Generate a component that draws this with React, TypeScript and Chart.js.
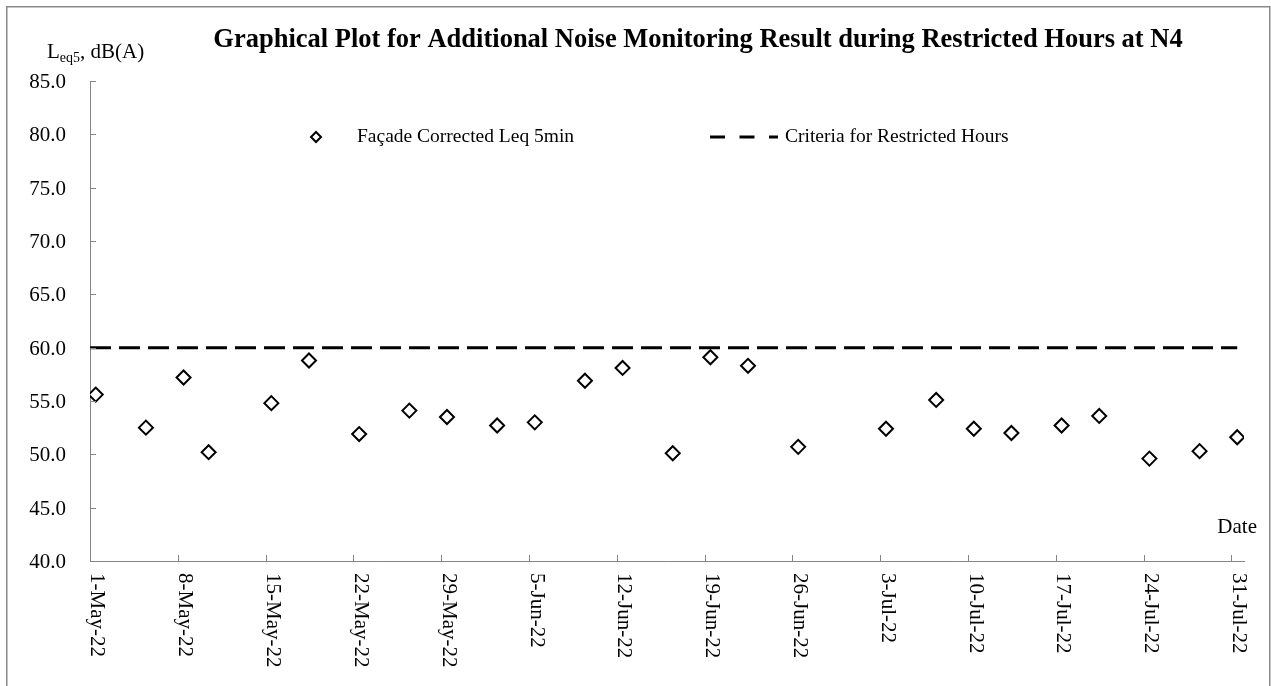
import React, { useEffect, useRef } from 'react';
import { Chart, registerables } from 'chart.js';

Chart.register(...registerables);

// ---------- data ----------
const TITLE = 'Graphical Plot for Additional Noise Monitoring Result during Restricted Hours at N4';
const SERIES_POINTS = 'Façade Corrected Leq 5min';
const SERIES_CRITERIA = 'Criteria for Restricted Hours';
const X_TITLE = 'Date';
const Y_TITLE_MAIN = 'L';
const Y_TITLE_SUB = 'eq5';
const Y_TITLE_REST = ', dB(A)';

const AXIS_START = '2022-05-01';
const MEASURE_TIME = '11:00';

const measureDates = [
  '2022-05-01', '2022-05-05', '2022-05-08', '2022-05-10', '2022-05-15', '2022-05-18',
  '2022-05-22', '2022-05-26', '2022-05-29', '2022-06-02', '2022-06-05', '2022-06-09',
  '2022-06-12', '2022-06-16', '2022-06-19', '2022-06-22', '2022-06-26', '2022-07-03',
  '2022-07-07', '2022-07-10', '2022-07-13', '2022-07-17', '2022-07-20', '2022-07-24',
  '2022-07-28', '2022-07-31',
];
const leqValues = [
  55.6, 52.5, 57.2, 50.2, 54.8, 58.8,
  51.9, 54.1, 53.5, 52.7, 53.0, 56.9,
  58.1, 50.1, 59.1, 58.3, 50.7, 52.4,
  55.1, 52.4, 52.0, 52.7, 53.6, 49.6,
  50.3, 51.6,
];

const criteriaDates = ['2022-05-01 00:00', '2022-07-31 11:00'];
const criteriaValues = [60, 60];

const xTickLabels = [
  '1-May-22', '8-May-22', '15-May-22', '22-May-22', '29-May-22', '5-Jun-22', '12-Jun-22',
  '19-Jun-22', '26-Jun-22', '3-Jul-22', '10-Jul-22', '17-Jul-22', '24-Jul-22', '31-Jul-22',
];
const X_MAX_DAYS = 92;
const X_STEP_DAYS = 7;
const yTickLabels = ['40.0', '45.0', '50.0', '55.0', '60.0', '65.0', '70.0', '75.0', '80.0', '85.0'];
const Y_MIN = 40;
const Y_MAX = 85;
const Y_STEP = 5;

// ---------- styles ----------
const FONT = '"Liberation Serif", "Times New Roman", serif';
const AXIS_COLOR = '#858585';
const FRAME_COLOR = '#8a8a8a';

function dayOffset(s: string): number {
  const [d, t = '00:00'] = s.split(' ');
  const [Y, M, D] = d.split('-').map(Number);
  const [h, m] = t.split(':').map(Number);
  const [Y0, M0, D0] = AXIS_START.split('-').map(Number);
  return (Date.UTC(Y, M - 1, D, h, m) - Date.UTC(Y0, M0 - 1, D0)) / 86400000;
}

const decorPlugin = {
  id: 'decor',
  beforeDraw(chart: any) {
    const { ctx, width, height } = chart;
    ctx.save();
    ctx.fillStyle = '#ffffff';
    ctx.fillRect(0, 0, width, height);
    ctx.restore();
  },
  afterDraw(chart: any) {
    const { ctx, chartArea } = chart;
    const xs = chart.scales.x;
    const ys = chart.scales.y;
    ctx.save();

    // outer frame
    ctx.strokeStyle = FRAME_COLOR;
    ctx.lineWidth = 1.5;
    ctx.strokeRect(6.75, 6.75, 1263, 800);

    // inward tick marks
    ctx.strokeStyle = AXIS_COLOR;
    ctx.lineWidth = 1;
    ctx.beginPath();
    xs.ticks.forEach((t: any) => {
      const px = Math.round(xs.getPixelForValue(t.value)) + 0.5;
      ctx.moveTo(px, chartArea.bottom);
      ctx.lineTo(px, chartArea.bottom - 6);
    });
    ys.ticks.forEach((t: any) => {
      const py = Math.round(ys.getPixelForValue(t.value)) + 0.5;
      ctx.moveTo(chartArea.left, py);
      ctx.lineTo(chartArea.left + 6, py);
    });
    ctx.stroke();

    ctx.fillStyle = '#000000';

    // y tick labels
    ctx.font = `21px ${FONT}`;
    ctx.textAlign = 'right';
    ctx.textBaseline = 'middle';
    ys.ticks.forEach((t: any, i: number) => {
      const py = ys.getPixelForValue(t.value);
      ctx.fillText(yTickLabels[i] ?? t.value.toFixed(1), chartArea.left - 24, py + 1.5);
    });

    // x tick labels rotated clockwise
    ctx.font = `21px ${FONT}`;
    ctx.textAlign = 'left';
    ctx.textBaseline = 'middle';
    xs.ticks.forEach((t: any, i: number) => {
      const px = xs.getPixelForValue(t.value);
      ctx.save();
      ctx.translate(px + 7, chartArea.bottom + 12);
      ctx.rotate(Math.PI / 2);
      ctx.fillText(xTickLabels[i] ?? '', 0, 0);
      ctx.restore();
    });

    // title
    ctx.font = `bold 26.5px ${FONT}`;
    ctx.textAlign = 'center';
    ctx.textBaseline = 'alphabetic';
    ctx.fillText(TITLE, 698, 47);

    // y axis title
    ctx.textAlign = 'left';
    ctx.font = `21px ${FONT}`;
    let x = 47;
    ctx.fillText(Y_TITLE_MAIN, x, 58);
    x += ctx.measureText(Y_TITLE_MAIN).width;
    ctx.font = `14px ${FONT}`;
    ctx.fillText(Y_TITLE_SUB, x, 62);
    x += ctx.measureText(Y_TITLE_SUB).width;
    ctx.font = `21px ${FONT}`;
    ctx.fillText(Y_TITLE_REST, x, 58);

    // x axis title
    ctx.textAlign = 'right';
    ctx.fillText(X_TITLE, 1257, 533);

    // legend
    const ly = 137;
    ctx.strokeStyle = '#000000';
    ctx.lineWidth = 2;
    ctx.fillStyle = '#ffffff';
    ctx.beginPath();
    ctx.moveTo(316, ly - 5);
    ctx.lineTo(321, ly);
    ctx.lineTo(316, ly + 5);
    ctx.lineTo(311, ly);
    ctx.closePath();
    ctx.fill();
    ctx.stroke();

    ctx.lineWidth = 3;
    ctx.setLineDash([15, 14.5]);
    ctx.beginPath();
    ctx.moveTo(710, ly);
    ctx.lineTo(778, ly);
    ctx.stroke();
    ctx.setLineDash([]);

    ctx.fillStyle = '#000000';
    ctx.font = `19.5px ${FONT}`;
    ctx.textAlign = 'left';
    ctx.textBaseline = 'middle';
    ctx.fillText(SERIES_POINTS, 357, ly);
    ctx.fillText(SERIES_CRITERIA, 785, ly);

    ctx.restore();
  },
};

export default function App() {
  const canvasRef = useRef<HTMLCanvasElement | null>(null);

  useEffect(() => {
    if (!canvasRef.current) return;
    const chart = new Chart(canvasRef.current, {
      type: 'scatter',
      data: {
        datasets: [
          {
            label: SERIES_POINTS,
            data: measureDates.map((d, i) => ({ x: dayOffset(`${d} ${MEASURE_TIME}`), y: leqValues[i] })),
            pointStyle: 'rectRot',
            pointRadius: 7,
            pointHoverRadius: 7,
            pointBorderWidth: 2,
            borderColor: '#000000',
            backgroundColor: '#ffffff',
            showLine: false,
          } as any,
          {
            label: SERIES_CRITERIA,
            type: 'line',
            data: criteriaDates.map((d, i) => ({ x: dayOffset(d), y: criteriaValues[i] })),
            borderColor: '#000000',
            borderWidth: 3,
            borderDash: [21, 8],
            pointRadius: 0,
            showLine: true,
            fill: false,
          } as any,
        ],
      },
      options: {
        responsive: false,
        animation: false,
        events: [],
        layout: { padding: { left: 90, top: 81, right: 27, bottom: 125 } },
        plugins: {
          legend: { display: false },
          title: { display: false },
          tooltip: { enabled: false },
        },
        scales: {
          x: {
            type: 'linear',
            min: 0,
            max: X_MAX_DAYS,
            ticks: { display: false, stepSize: X_STEP_DAYS, includeBounds: false },
            grid: { display: false, drawTicks: false },
            border: { display: true, color: AXIS_COLOR, width: 1 },
          },
          y: {
            type: 'linear',
            min: Y_MIN,
            max: Y_MAX,
            ticks: { display: false, stepSize: Y_STEP },
            grid: { display: false, drawTicks: false },
            border: { display: true, color: AXIS_COLOR, width: 1 },
          },
        },
      } as any,
      plugins: [decorPlugin],
    });
    return () => chart.destroy();
  }, []);

  return (
    <div style={{ position: 'absolute', left: 0, top: 0, width: 1271, height: 686, background: '#fff' }}>
      <canvas ref={canvasRef} width={1271} height={686} style={{ display: 'block', width: 1271, height: 686 }} />
    </div>
  );
}
